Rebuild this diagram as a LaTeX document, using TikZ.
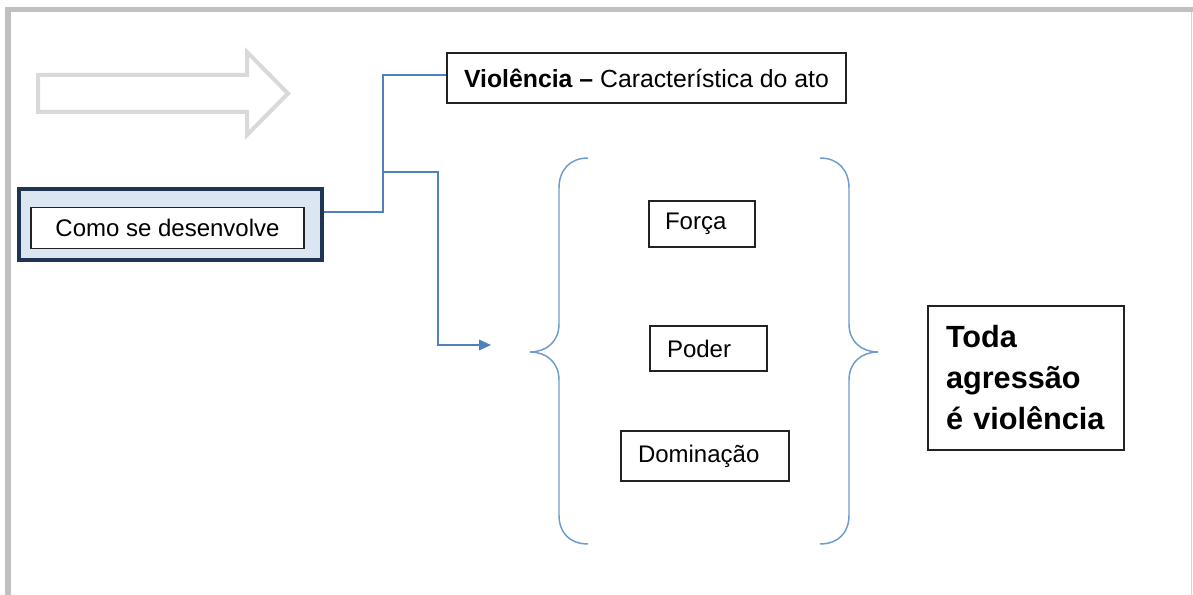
\documentclass[tikz,border=0pt]{standalone}
\usepackage{fontspec}
\setmainfont{Liberation Sans}
\usetikzlibrary{arrows.meta}
\definecolor{framegray}{HTML}{C0C0C0}
\definecolor{rightgray}{HTML}{D4D4D4}
\definecolor{arrowgray}{HTML}{D9D9D9}
\definecolor{connblue}{HTML}{4F81BD}
\definecolor{bracebl}{HTML}{6C9BD2}
\definecolor{navy}{HTML}{1F3552}
\definecolor{paleblue}{HTML}{DCE6F2}
\definecolor{boxline}{HTML}{222222}
\begin{document}
\begin{tikzpicture}[x=0.75pt,y=-0.75pt,
  box/.style={draw=boxline,line width=1.2pt,fill=white,font=\fontsize{18}{21.6}\selectfont,inner ysep=0pt},
  conn/.style={draw=connblue,line width=1.1pt},
  bracestyle/.style={draw=bracebl,line width=1.1pt},
  hollow/.style={draw=arrowgray,line width=3pt,line join=miter},
]
\useasboundingbox (0,0) rectangle (1193,595);
% frame
\draw[framegray,line width=3.75pt] (5,9.5) -- (1193,9.5);
\draw[framegray,line width=4pt] (8,7) -- (8,595);
\draw[rightgray,line width=1.2pt] (1191.5,12) -- (1191.5,595);
% hollow arrow
\draw[hollow] (38,75) -- (247,75) -- (247,52) -- (288,93.5) -- (247,135) -- (247,112) -- (38,112) -- cycle;
% left group
\node[draw=navy,fill=paleblue,line width=3pt,minimum width=227.25pt,minimum height=53.25pt] (outer) at (170.5,224.5) {};
\node[box,minimum width=204.75pt,minimum height=30.75pt,inner xsep=0pt] (como) at (167.5,228) {Como se desenvolve};
% top box
\node[box,minimum width=299.25pt,minimum height=37.5pt,inner xsep=0pt,font=\fontsize{18.6}{22}\selectfont] (viol) at (646.5,78) {{\bfseries Violência –} Característica do ato};
% inner boxes
\node[box,text width=55.5pt,inner xsep=12pt,minimum height=34.5pt,align=left] (forca) at (702,224) {Força};
\node[box,text width=62.25pt,inner xsep=12.75pt,minimum height=33.75pt,align=left] (poder) at (708.5,348.5) {Poder};
\node[box,text width=100.5pt,inner xsep=12.75pt,minimum height=37.5pt,align=left] (domin) at (705,456) {Dominação};
% result box
\node[box,text width=120pt,inner xsep=13.5pt,minimum height=108pt,align=left,font=\fontsize{23}{30.75}\selectfont\bfseries] (toda) at (1026,378) {Toda\\agressão\\é violência};
% connectors
\coordinate (bendA) at (383,212);
\coordinate (split) at (383,172);
\coordinate (bendB) at (438,172);
\coordinate (bendC) at (438,345);
\coordinate (tipA) at (491,345);
\coordinate (bendTop) at (383,75);
\draw[conn] (outer.east |- bendA) -- (bendA) -- (bendTop) -- (bendTop -| viol.west);
\draw[conn,-{Triangle[length=9pt,width=8pt]}] (split) -- (bendB) -- (bendC) -- (tipA);
% braces
\draw[bracestyle] (588,158) .. controls (570,158) and (559,170) .. (559,188) -- (559,324)
  .. controls (559,342) and (546,352) .. (530,352)
  .. controls (546,352) and (559,362) .. (559,380) -- (559,515)
  .. controls (559,533) and (570,544) .. (588,544);
\draw[bracestyle] (820,158) .. controls (838,158) and (849,170) .. (849,188) -- (849,324)
  .. controls (849,342) and (862,352) .. (878,352)
  .. controls (862,352) and (849,362) .. (849,380) -- (849,515)
  .. controls (849,533) and (838,544) .. (820,544);
\end{tikzpicture}
\end{document}
